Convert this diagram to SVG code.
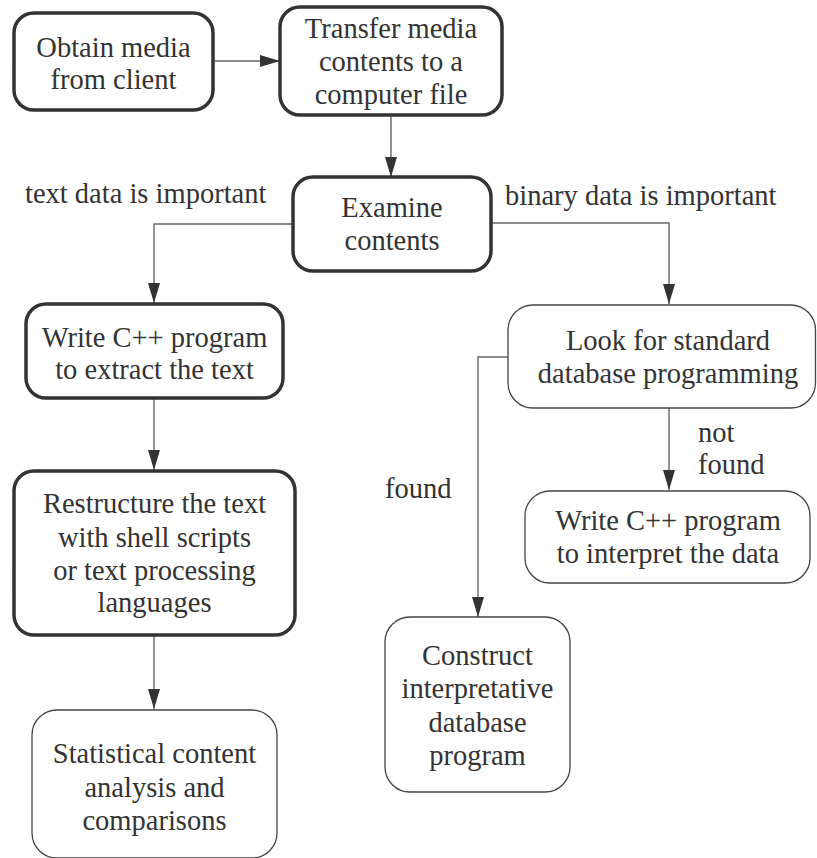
<svg xmlns="http://www.w3.org/2000/svg" width="817" height="858" viewBox="0 0 817 858">
<defs>
<marker id="ah" markerUnits="userSpaceOnUse" markerWidth="20" markerHeight="12" refX="20" refY="6" orient="auto">
<path d="M0,0 L20,6 L0,12 z" fill="#333"/>
</marker>
</defs>
<rect width="817" height="858" fill="#fff"/>
<g id="connectors" fill="none" stroke="#666" stroke-width="1.4">
<path d="M213,61 H280" marker-end="url(#ah)"/>
<path d="M391,115 V177" marker-end="url(#ah)"/>
<path d="M293,224 H154 V303" marker-end="url(#ah)"/>
<path d="M491,223 H669 V304" marker-end="url(#ah)"/>
<path d="M154,398 V470" marker-end="url(#ah)"/>
<path d="M154,635 V709" marker-end="url(#ah)"/>
<path d="M508,357 H478 V617" marker-end="url(#ah)"/>
<path d="M669,408 V490" marker-end="url(#ah)"/>
</g>
<g id="labels" font-family="Liberation Serif" font-size="28.5" fill="#333">
<text x="25" y="203">text data is important</text>
<text x="505" y="205">binary data is important</text>
<text x="385" y="498">found</text>
<text x="698" y="442">not</text>
<text x="698" y="474">found</text>
</g>
<g id="obtain">
<rect x="14" y="13" width="199" height="97" rx="20" fill="#fff" stroke="#333" stroke-width="3.5"/>
<text x="113.5" y="57" font-family="Liberation Serif" font-size="28.5" fill="#333" text-anchor="middle">Obtain media</text>
<text x="113.5" y="89" font-family="Liberation Serif" font-size="28.5" fill="#333" text-anchor="middle">from client</text>
</g>
<g id="transfer">
<rect x="280" y="7" width="222" height="108" rx="20" fill="#fff" stroke="#333" stroke-width="3.5"/>
<text x="391" y="38" font-family="Liberation Serif" font-size="28.5" fill="#333" text-anchor="middle">Transfer media</text>
<text x="391" y="71" font-family="Liberation Serif" font-size="28.5" fill="#333" text-anchor="middle">contents to a</text>
<text x="391" y="104" font-family="Liberation Serif" font-size="28.5" fill="#333" text-anchor="middle">computer file</text>
</g>
<g id="examine">
<rect x="293" y="177" width="198" height="94" rx="20" fill="#fff" stroke="#333" stroke-width="3.5"/>
<text x="392" y="217" font-family="Liberation Serif" font-size="28.5" fill="#333" text-anchor="middle">Examine</text>
<text x="392" y="250" font-family="Liberation Serif" font-size="28.5" fill="#333" text-anchor="middle">contents</text>
</g>
<g id="writetext">
<rect x="26" y="304" width="257" height="94" rx="20" fill="#fff" stroke="#333" stroke-width="3.5"/>
<text x="154.5" y="347" font-family="Liberation Serif" font-size="28.5" fill="#333" text-anchor="middle">Write C++ program</text>
<text x="154.5" y="379" font-family="Liberation Serif" font-size="28.5" fill="#333" text-anchor="middle">to extract the text</text>
</g>
<g id="restructure">
<rect x="14" y="471" width="281" height="164" rx="20" fill="#fff" stroke="#333" stroke-width="3.5"/>
<text x="154.5" y="513" font-family="Liberation Serif" font-size="28.5" fill="#333" text-anchor="middle">Restructure the text</text>
<text x="154.5" y="547" font-family="Liberation Serif" font-size="28.5" fill="#333" text-anchor="middle">with shell scripts</text>
<text x="154.5" y="580" font-family="Liberation Serif" font-size="28.5" fill="#333" text-anchor="middle">or text processing</text>
<text x="154.5" y="612" font-family="Liberation Serif" font-size="28.5" fill="#333" text-anchor="middle">languages</text>
</g>
<g id="statistical">
<rect x="32" y="710" width="245" height="148" rx="25" fill="#fff" stroke="#444" stroke-width="1.3"/>
<text x="154.5" y="763" font-family="Liberation Serif" font-size="28.5" fill="#333" text-anchor="middle">Statistical content</text>
<text x="154.5" y="797" font-family="Liberation Serif" font-size="28.5" fill="#333" text-anchor="middle">analysis and</text>
<text x="154.5" y="830" font-family="Liberation Serif" font-size="28.5" fill="#333" text-anchor="middle">comparisons</text>
</g>
<g id="lookfor">
<rect x="508" y="305" width="307.5" height="103" rx="25" fill="#fff" stroke="#444" stroke-width="1.3"/>
<text x="668" y="350" font-family="Liberation Serif" font-size="28.5" fill="#333" text-anchor="middle">Look for standard</text>
<text x="668" y="383" font-family="Liberation Serif" font-size="28.5" fill="#333" text-anchor="middle">database programming</text>
</g>
<g id="writeinterp">
<rect x="525" y="491" width="285" height="92" rx="25" fill="#fff" stroke="#444" stroke-width="1.3"/>
<text x="668" y="530" font-family="Liberation Serif" font-size="28.5" fill="#333" text-anchor="middle">Write C++ program</text>
<text x="668" y="563" font-family="Liberation Serif" font-size="28.5" fill="#333" text-anchor="middle">to interpret the data</text>
</g>
<g id="construct">
<rect x="385" y="617" width="185" height="175" rx="25" fill="#fff" stroke="#444" stroke-width="1.3"/>
<text x="477.5" y="665" font-family="Liberation Serif" font-size="28.5" fill="#333" text-anchor="middle">Construct</text>
<text x="477.5" y="698" font-family="Liberation Serif" font-size="28.5" fill="#333" text-anchor="middle">interpretative</text>
<text x="477.5" y="732" font-family="Liberation Serif" font-size="28.5" fill="#333" text-anchor="middle">database</text>
<text x="477.5" y="765" font-family="Liberation Serif" font-size="28.5" fill="#333" text-anchor="middle">program</text>
</g>
</svg>
